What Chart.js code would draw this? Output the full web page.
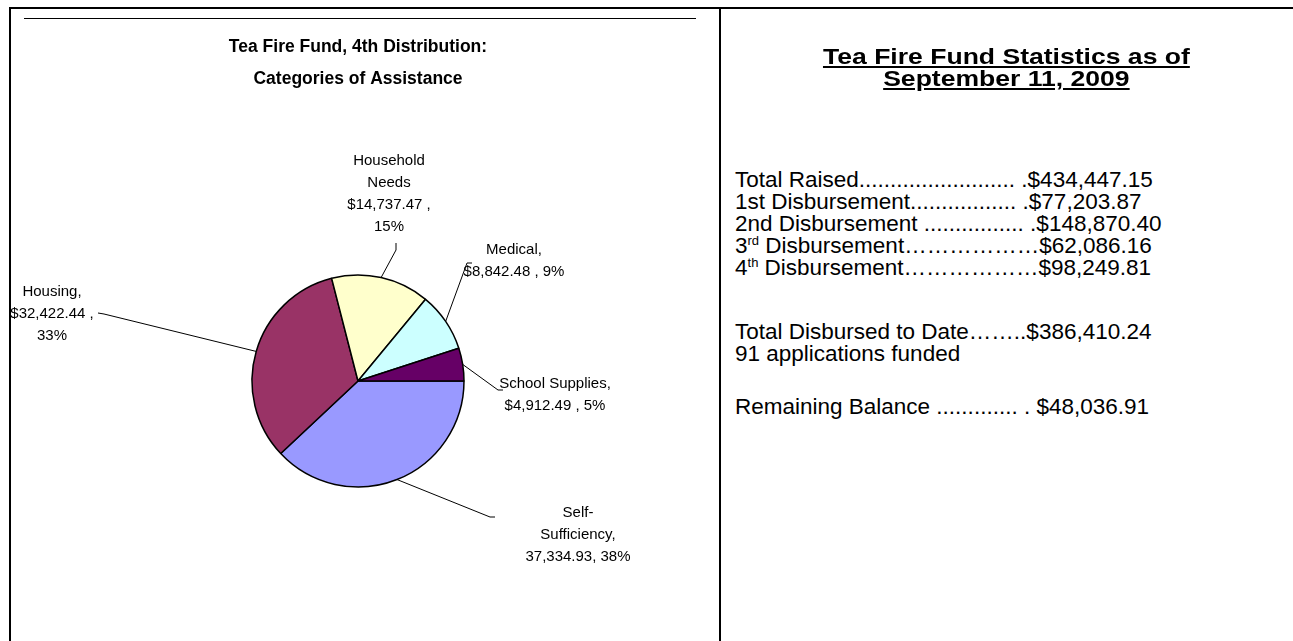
<!DOCTYPE html>
<html>
<head>
<meta charset="utf-8">
<script src="https://cdn.jsdelivr.net/npm/chart.js@4"></script>
<style>
  html, body { margin: 0; padding: 0; background: #fff; }
  body { width: 1293px; height: 641px; position: relative; overflow: hidden;
         font-family: "Liberation Sans", Arial, sans-serif; color: #000; }
  #pie { position: absolute; left: 0; top: 0; }
  .rule { position: absolute; background: #000; }
  .stats { position: absolute; font-size: 22.5px; line-height: 22px; white-space: nowrap; }
  .stats sup { font-size: 13px; vertical-align: 8px; line-height: 0; }
  .head { position: absolute; left: 720px; width: 573px; text-align: center; white-space: nowrap;
          font-weight: bold; font-size: 22.5px; line-height: 22px; text-decoration: underline;
          transform: scaleX(1.18); transform-origin: 287px 0; }
</style>
</head>
<body>
<canvas id="pie" width="718" height="641"></canvas>

<div class="rule" style="left:9px; top:7px; width:1284px; height:2px;"></div>
<div class="rule" style="left:9px; top:7px; width:2px; height:634px;"></div>
<div class="rule" style="left:719px; top:7px; width:2px; height:634px;"></div>
<div class="rule" style="left:24px; top:18px; width:672px; height:1px;"></div>

<div class="head" style="top:46px;">Tea Fire Fund Statistics as of<br>September 11, 2009</div>

<div class="stats" style="left:735px; top:169px;">
Total Raised......................... .$434,447.15<br>
1st Disbursement................. .$77,203.87<br>
2nd Disbursement ................ .$148,870.40<br>
3<sup>rd</sup> Disbursement………………$62,086.16<br>
4<sup>th</sup> Disbursement………………$98,249.81
</div>
<div class="stats" style="left:735px; top:321px;">
Total Disbursed to Date……..$386,410.24<br>
91 applications funded
</div>
<div class="stats" style="left:735px; top:396px;">
Remaining Balance ............. . $48,036.91
</div>

<script>
// slices clockwise from 3 o'clock
const categories = ['Self-Sufficiency', 'Housing', 'Household Needs', 'Medical', 'School Supplies'];
const amounts = [37334.93, 32422.44, 14737.47, 8842.48, 4912.49];
const sliceColors = ['#9999FF', '#993366', '#FFFFCC', '#CCFFFF', '#660066'];

// label text, {$} = money, {n} = number, {p} = percent
const labelTemplates = [
  ['Self-', 'Sufficiency,', '{n}, {p}'],
  ['Housing,', '{$} ,', '{p}'],
  ['Household', 'Needs', '{$} ,', '{p}'],
  ['Medical,', '{$} , {p}'],
  ['School Supplies,', '{$} , {p}']
];

// where each label sits relative to the pie centre (px)
const labelPlace = [
  { tx: 220, ty: 132, elbow: [132, 136], tick: [137, 136] },
  { tx: -306, ty: -89, elbow: [-254, -67], tick: [-260, -68] },
  { tx: 31, ty: -220, elbow: [38, -131], tick: [38, -138] },
  { tx: 156, ty: -131, elbow: [109, -118], tick: [114, -118] },
  { tx: 197, ty: 3, elbow: [140, 9], tick: [145, 9] }
];

const total = amounts.reduce((a, b) => a + b, 0);
const fmt = v => v.toLocaleString('en-US', { minimumFractionDigits: 2, maximumFractionDigits: 2 });

const labelsPlugin = {
  id: 'sliceLabels',
  afterDatasetsDraw(chart) {
    const ctx = chart.ctx;
    const arcs = chart.getDatasetMeta(0).data;
    ctx.save();
    ctx.font = '15px "Liberation Sans", Arial, sans-serif';
    ctx.fillStyle = '#000';
    ctx.strokeStyle = '#000';
    ctx.lineWidth = 1;
    ctx.textAlign = 'center';
    ctx.textBaseline = 'middle';
    arcs.forEach((arc, i) => {
      const cx = arc.x, cy = arc.y, r = arc.outerRadius;
      const mid = (arc.startAngle + arc.endAngle) / 2;
      const p = labelPlace[i];
      ctx.beginPath();
      ctx.moveTo(cx + r * Math.cos(mid), cy + r * Math.sin(mid));
      ctx.lineTo(cx + p.elbow[0], cy + p.elbow[1]);
      ctx.lineTo(cx + p.tick[0], cy + p.tick[1]);
      ctx.stroke();
      const v = amounts[i];
      const pct = Math.round(v / total * 100) + '%';
      labelTemplates[i].forEach((t, k) => {
        const s = t.replace('{$}', '$' + fmt(v)).replace('{n}', fmt(v)).replace('{p}', pct);
        ctx.fillText(s, cx + p.tx, cy + p.ty + k * 22);
      });
    });
    ctx.restore();
  }
};

new Chart(document.getElementById('pie'), {
  type: 'pie',
  data: {
    labels: categories,
    datasets: [{
      data: amounts,
      backgroundColor: sliceColors,
      borderColor: '#000',
      borderWidth: 1.5
    }]
  },
  options: {
    responsive: false,
    animation: false,
    events: [],
    rotation: 90,
    radius: 106,
    layout: { padding: { left: 0, right: 2, top: 0, bottom: 0 } },
    plugins: {
      legend: { display: false },
      tooltip: { enabled: false },
      title: {
        display: true,
        text: ['Tea Fire Fund, 4th Distribution:', 'Categories of Assistance'],
        color: '#000',
        font: { family: '"Liberation Sans", Arial, sans-serif', size: 17.5, weight: 'bold', lineHeight: '32px' },
        padding: { top: 31, bottom: 26 }
      }
    }
  },
  plugins: [labelsPlugin]
});
</script>
</body>
</html>
